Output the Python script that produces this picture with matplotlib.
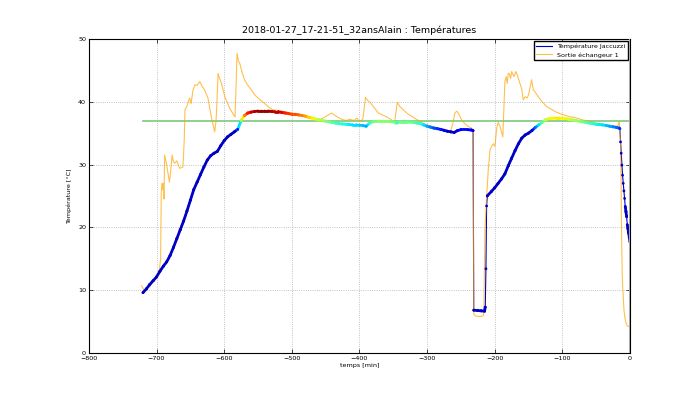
import matplotlib
matplotlib.use('Agg')
import matplotlib.pyplot as plt
from matplotlib.collections import LineCollection
from matplotlib.colors import ListedColormap, Normalize
import numpy as np

# Jacuzzi temperature (minutes before end, degC)
t_jac = [-720, -715, -710, -705, -700, -695, -690, -685, -680, -675, -670, -665, -660, -655,
         -650, -645, -640, -635, -630, -625, -620, -615, -610, -605, -600, -595, -590, -585,
         -580, -575, -570, -565, -560, -555, -550, -545, -540, -535, -530, -525, -520, -515,
         -510, -505, -500, -495, -490, -485, -480, -475, -470, -465, -460, -455, -450, -445,
         -440, -435, -430, -425, -420, -415, -410, -405, -400, -395, -390, -385, -380, -375,
         -370, -365, -360, -355, -350, -345, -340, -335, -330, -325, -320, -315, -310, -305,
         -300, -295, -290, -285, -280, -275, -270, -265, -260, -255, -250, -245, -240, -235,
         -232, -231, -225, -220, -215, -214, -213, -212, -211, -205, -200, -195, -190, -185,
         -180, -175, -170, -165, -160, -155, -150, -145, -140, -135, -130, -125, -120, -115,
         -110, -105, -100, -95, -90, -85, -80, -75, -70, -65, -60, -55, -50, -45, -40, -35,
         -30, -25, -20, -16, -15, -14, -13, -12, -11, -10, -9, -8, -7, -6, -5, -4, -3, -2, -1, 0]
temp_jac = [9.6, 10.2, 10.9, 11.5, 12.1, 13.0, 13.8, 14.5, 15.5, 16.8, 18.2, 19.6, 21.0, 22.6,
            24.3, 26.0, 27.2, 28.4, 29.6, 30.7, 31.4, 31.8, 32.1, 33.0, 33.8, 34.4, 34.8, 35.2,
            35.6, 37.0, 37.8, 38.2, 38.35, 38.45, 38.5, 38.5, 38.5, 38.5, 38.45, 38.4, 38.4, 38.3,
            38.2, 38.1, 38.0, 38.0, 37.9, 37.8, 37.7, 37.5, 37.4, 37.25, 37.1, 37.0, 36.9, 36.8,
            36.7, 36.6, 36.5, 36.45, 36.4, 36.35, 36.3, 36.3, 36.25, 36.2, 36.1, 36.6, 36.8, 36.85,
            36.9, 36.9, 36.9, 36.85, 36.8, 36.6, 36.8, 36.8, 36.8, 36.75, 36.7, 36.6, 36.5, 36.3,
            36.1, 35.95, 35.8, 35.7, 35.6, 35.45, 35.3, 35.2, 35.1, 35.4, 35.55, 35.6, 35.55, 35.5,
            35.4, 6.8, 6.75, 6.7, 6.65, 7.3, 13.4, 23.4, 25.0, 25.7, 26.3, 27.0, 27.7, 28.5,
            29.8, 31.0, 32.2, 33.3, 34.2, 34.7, 35.0, 35.4, 35.9, 36.3, 36.7, 37.1, 37.3, 37.35,
            37.4, 37.4, 37.35, 37.3, 37.2, 37.1, 37.0, 36.9, 36.8, 36.7, 36.6, 36.5, 36.4, 36.35, 36.3, 36.2,
            36.1, 36.0, 35.9, 35.8, 35.7, 33.6, 31.8, 29.9, 28.3, 27.0, 25.8, 24.6, 23.3, 22.5, 21.7,
            20.4, 19.8, 19.1, 18.4, 17.7]

# Heat exchanger outlet
t_ech = [-722, -718, -710, -700, -696, -694, -693, -692, -691, -690, -689, -688, -686, -683,
         -681, -679, -677, -675, -673, -670, -666, -661, -659, -658, -655, -653, -651, -649,
         -646, -643, -640, -636, -633, -629, -624, -619, -614, -612, -611, -609, -607, -604,
         -599, -592, -586, -584, -583, -581, -579, -577, -573, -570, -565, -560, -554, -547,
         -540, -535, -528, -520, -510, -500, -490, -480, -470, -465, -458, -452, -446, -441,
         -436, -430, -426, -420, -414, -408, -404, -400, -395, -391, -388, -385, -380, -372,
         -366, -360, -354, -348, -346, -344, -340, -335, -329, -323, -316, -310, -305, -300,
         -290, -280, -270, -265, -262, -259, -256, -253, -249, -245, -242, -238, -234, -232,
         -231, -229, -222, -217, -216, -215, -214.5, -213, -212, -211, -209.6, -207, -204.6,
         -202, -199.7, -197, -195, -192, -188, -186, -185, -183, -181.5, -180, -178.5, -176.5,
         -175, -171.6, -168.6, -165, -160, -158, -155, -152, -150, -145.5, -143, -140, -135.6,
         -130, -123, -115, -110, -103.6, -95, -89, -82, -76, -70, -60, -50, -40, -30, -20, -17,
         -16, -15, -14, -13, -12.3, -11.5, -10.8, -9.5, -8.9, -7.5, -6, -4, -2, 0]
temp_ech = [10.7, 9.9, 10.6, 12.1, 13.0, 15.0, 25.5, 27.0, 26.0, 27.0, 24.5, 31.5, 30.5, 28.6,
            27.2, 29.0, 31.5, 30.4, 30.2, 30.6, 29.4, 29.6, 34.0, 38.7, 39.3, 40.0, 40.6, 39.7,
            41.9, 42.7, 42.6, 43.2, 42.5, 41.9, 40.6, 37.6, 35.2, 37.0, 39.2, 44.5, 43.8, 42.9,
            40.8, 39.0, 37.9, 37.6, 40.5, 47.7, 46.5, 46.1, 44.5, 43.5, 42.6, 41.9, 41.0, 40.3,
            39.7, 39.2, 38.7, 38.6, 38.4, 38.2, 38.0, 37.8, 37.5, 37.3, 37.2, 37.5, 37.9, 38.2,
            37.8, 37.4, 37.2, 37.0, 37.2, 37.0, 37.4, 36.8, 37.2, 40.7, 40.2, 40.0, 39.3, 38.2,
            37.9, 37.6, 37.2, 36.8, 38.3, 39.9, 39.2, 38.7, 38.1, 37.7, 37.2, 36.9, 36.5, 36.3,
            36.0, 35.7, 35.4, 35.4, 36.5, 38.2, 38.5, 38.0, 37.1, 36.6, 36.3, 36.0, 35.8, 35.6,
            6.2, 5.9, 5.8, 5.9, 7.0, 15.0, 19.6, 23.0, 24.9, 26.5, 29.1, 32.3, 32.9,
            33.3, 32.9, 35.8, 36.7, 36.0, 34.4, 40.3, 43.2, 44.0, 42.9, 44.5, 44.5, 43.7,
            44.8, 44.0, 44.8, 43.7, 42.0, 40.3, 40.8, 40.6, 41.1, 43.5, 41.9, 41.5, 40.8,
            40.0, 39.2, 38.7, 38.4, 38.1, 37.8, 37.6, 37.5, 37.3, 37.1, 36.9, 36.6, 36.4, 36.2, 36.1, 36.3,
            36.8, 35.5, 33.4, 26.0, 17.5, 12.5, 10.6, 8.0, 6.8, 5.6, 4.8, 4.3, 4.2, 4.3]

consigne = 37.0
title = '2018-01-27_17-21-51_32ansAlain : Températures'

cmap = ListedColormap(plt.get_cmap('jet')(np.linspace(0.06, 1.0, 256)))
norm = Normalize(vmin=35.3, vmax=38.6)

fig = plt.figure(figsize=(7, 3.93), dpi=100)
ax = fig.add_axes([0.127, 0.102, 0.773, 0.799])

x = np.array(t_jac, dtype=float)
y = np.array(temp_jac)
ax.plot(x, y, color='#0000cc', lw=0.8, label='Température Jaccuzzi', zorder=3)

# thick coloured band where the curve is slow (dense sampling in the original)
pts = np.column_stack([x, y])
segs = np.stack([pts[:-1], pts[1:]], axis=1)
slope = np.abs(np.diff(y) / np.diff(x))
keep = slope < 1.0
lc = LineCollection(segs[keep], cmap=cmap, norm=norm, linewidths=2.0,
                    capstyle='round', zorder=5)
lc.set_array((y[:-1] + y[1:])[keep] / 2)
ax.add_collection(lc)

ax.plot(t_ech, temp_ech, color='orange', alpha=0.7, lw=0.8, label='Sortie échangeur 1', zorder=4)
ax.scatter(x, y, c=y, cmap=cmap, norm=norm, s=4, edgecolors='none', zorder=6)
ax.plot([t_jac[0], 0], [consigne, consigne], color='#7cc87c', lw=1.2, zorder=2)
ax.axvline(0, color='#aaaaaa', lw=1.5, zorder=7)

ax.set_xlim(-800, 0)
ax.set_ylim(0, 50)
ax.set_xticks(np.arange(-800, 1, 100))
ax.set_yticks(np.arange(0, 51, 10))
ax.grid(True, color='#b0b0b0', ls=':', lw=0.6)
ax.tick_params(direction='in', top=True, right=True, length=3, width=0.5, labelsize=4.6, pad=2)
for s in ax.spines.values():
    s.set_linewidth(0.8)

ax.set_title(title, fontsize=6.8, pad=4)
ax.set_xlabel('temps [min]', fontsize=4.6, labelpad=2)
ax.set_ylabel('Température [°C]', fontsize=4.6, labelpad=4)
ax.legend(loc='upper right', fontsize=4.6, handlelength=2.5, borderaxespad=0.3,
          fancybox=False, edgecolor='k', framealpha=1)

plt.savefig('out.png', dpi=100)
